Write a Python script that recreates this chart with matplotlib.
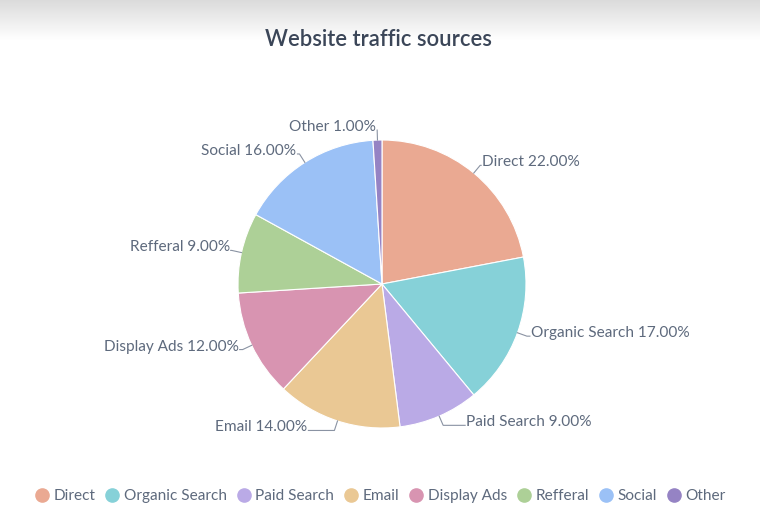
import numpy as np
import matplotlib
matplotlib.use("Agg")
import matplotlib.pyplot as plt
from matplotlib.lines import Line2D

plt.rcParams['font.family'] = ['Lato', 'DejaVu Sans']

categories = ["Direct", "Organic Search", "Paid Search", "Email", "Display Ads", "Refferal", "Social", "Other"]
values = [22, 17, 9, 14, 12, 9, 16, 1]
colors = ["#EAA992", "#86D1D8", "#BAAAE6", "#EAC894", "#D894B1", "#ADD097", "#9BC1F6", "#9583C4"]
# extra horizontal leader length per label (styling only)
leader2 = [1, 3, 22, 26, 3, 1, 2, 0]

W, H = 760, 528
fig = plt.figure(figsize=(W / 100, H / 100), dpi=100)
ax = fig.add_axes([0, 0, 1, 1])
ax.set_xlim(0, W)
ax.set_ylim(0, H)
ax.axis('off')

# top shadow gradient
grad = np.linspace(0, 1, 60).reshape(-1, 1)
bg = fig.add_axes([0, 1 - 40 / H, 1, 40 / H], zorder=-1)
bg.imshow(np.dstack([0.86 + 0.14 * grad] * 3).clip(0, 1), aspect='auto', extent=[0, 1, 0, 1], origin='upper')
bg.axis('off')

cx, cy, R = 382, H - 284, 144
wedges, _ = ax.pie(values, colors=colors, startangle=90, counterclock=False,
                   center=(cx, cy), radius=R,
                   wedgeprops=dict(edgecolor='white', linewidth=0.8))
ax.set_xlim(0, W)
ax.set_ylim(0, H)
ax.set_aspect('equal')

total = float(sum(values))
label_color = "#5E6A7D"
cum = 0.0
for i, (cat, v) in enumerate(zip(categories, values)):
    mid = (cum + v / 2) / total * 2 * np.pi
    cum += v
    sx, sy = np.sin(mid), np.cos(mid)
    p0 = (cx + R * sx, cy + R * sy)
    p1 = (cx + (R + 10) * sx, cy + (R + 10) * sy)
    side = 1 if sx >= 0 else -1
    if abs(sx) < 0.05:
        side = -1
    p2 = (p1[0] + side * leader2[i], p1[1])
    ax.plot([p0[0], p1[0], p2[0]], [p0[1], p1[1], p2[1]], color="#8A93A3", lw=0.8)
    ax.text(p2[0] + side * 1.0, p2[1] + 3, f"{cat} {v:.2f}%",
            ha='left' if side > 0 else 'right', va='center',
            fontsize=11.1, color=label_color)

ax.text(W / 2 - 2, H - 40, "Website traffic sources", ha='center', va='center',
        fontsize=15.8, color="#3B4658", fontweight='semibold')

handles = [Line2D([0], [0], marker='o', linestyle='', markersize=9.5,
                  markerfacecolor=c, markeredgecolor=c) for c in colors]
leg = fig.legend(handles, categories, loc='center', bbox_to_anchor=(379 / W, 1 - 496 / H),
                 ncol=len(categories), frameon=False, handletextpad=0.15,
                 columnspacing=0.5, fontsize=11.1, handlelength=1.2)
for t in leg.get_texts():
    t.set_color(label_color)

fig.savefig("out.png", dpi=100)
